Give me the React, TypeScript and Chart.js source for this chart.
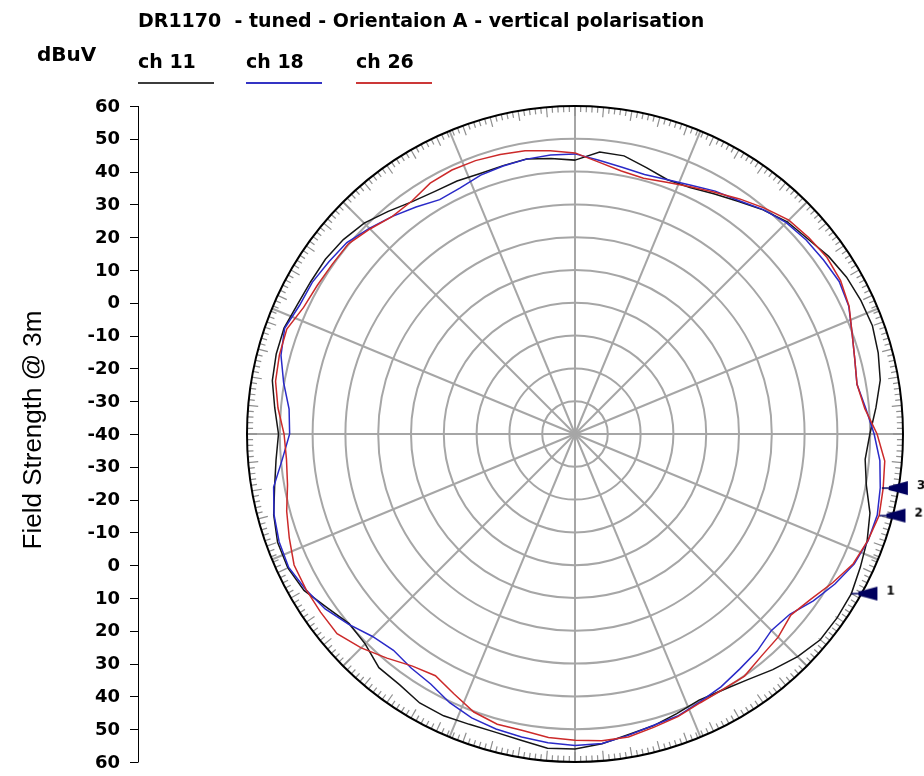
import React, { useEffect, useRef } from 'react';
import { Chart, registerables } from 'chart.js';

Chart.register(...registerables);

// Angles (degrees, clockwise from top)
const angleLabels = [
  '0', '5', '10', '15', '20', '25', '30', '35', '40', '45', '50', '55',
  '60', '65', '70', '75', '80', '85', '90', '95', '100', '105', '110', '115',
  '120', '125', '130', '135', '140', '145', '150', '155', '160', '165', '170', '175',
  '180', '185', '190', '195', '200', '205', '210', '215', '220', '225', '230', '235',
  '240', '245', '250', '255', '260', '265', '270', '275', '280', '285', '290', '295',
  '300', '305', '310', '315', '320', '325', '330', '335', '340', '345', '350', '355',
];

// Field strength, dBuV
const ch11 = [
  43.5, 46.3, 46.1, 44.1, 42.5, 42.9, 44.6, 46.6, 49.2, 51.5, 52.6, 54.4,
  55.6, 56.2, 56.5, 55.7, 54.5, 52.1, 49.9, 48.8, 50.2, 53.1, 54.8, 56.0,
  57.3, 57.6, 57.6, 56.0, 53.8, 51.5, 50.1, 49.5, 50.7, 52.1, 53.1, 54.8,
  56.0, 56.2, 54.8, 54.1, 54.2, 54.8, 54.7, 53.3, 53.0, 50.5, 49.9, 52.3,
  55.4, 56.6, 56.5, 55.1, 53.0, 51.5, 50.4, 51.9, 53.7, 54.3, 54.4, 53.4,
  53.0, 52.9, 52.2, 50.9, 48.6, 46.5, 45.4, 45.1, 44.5, 44.7, 45.1, 44.3,
];
const ch18 = [
  45.4, 43.8, 42.6, 41.9, 42.5, 43.7, 45.5, 46.9, 49.3, 51.1, 52.0, 52.5,
  53.0, 52.1, 49.9, 48.3, 47.3, 49.0, 51.2, 53.3, 54.5, 55.4, 55.1, 53.9,
  51.5, 48.7, 45.5, 44.7, 46.4, 47.5, 49.0, 50.1, 51.5, 52.0, 53.3, 54.7,
  55.0, 54.5, 53.8, 53.1, 52.1, 50.4, 48.0, 47.1, 46.1, 47.3, 50.2, 53.0,
  54.8, 56.3, 56.0, 55.0, 53.3, 49.6, 47.0, 47.5, 50.2, 52.8, 54.2, 52.7,
  52.5, 51.6, 50.8, 48.7, 46.6, 44.5, 42.5, 42.8, 44.0, 44.6, 45.1, 45.4,
];
const ch26 = [
  45.7, 43.2, 41.4, 40.7, 41.7, 43.2, 45.1, 47.5, 49.9, 52.2, 53.1, 53.8,
  53.5, 52.2, 49.9, 48.3, 47.3, 48.7, 52.1, 54.8, 55.4, 56.0, 55.0, 53.6,
  50.7, 47.8, 45.9, 47.6, 48.4, 50.1, 50.0, 50.4, 51.7, 52.6, 53.8, 53.9,
  53.4, 52.9, 51.8, 51.6, 50.2, 47.4, 45.1, 46.4, 49.2, 52.2, 54.7, 54.7,
  54.7, 54.5, 52.7, 51.0, 49.0, 48.3, 48.7, 50.9, 52.7, 53.3, 53.5, 51.3,
  50.7, 50.3, 50.2, 48.4, 46.6, 46.7, 48.3, 48.8, 48.7, 48.2, 47.7, 46.7,
];

const seriesNames = ['ch 11', 'ch 18', 'ch 26'];
const seriesColors = ['#151515', '#2a2ac8', '#cc2a2a'];
const legendColors = ['#3c3c3c', '#3434c4', '#cc3838'];

// Left axis tick values (mirrored about the centre)
const axisTicks = [-40, -30, -20, -10, 0, 10, 20, 30, 40, 50, 60];

// Markers
const markerLabels = ['1', '2', '3'];
const markerAngles = [120, 105, 100];
const markerValues = [57.3, 56.1, 55.0];

const titleText = 'DR1170  - tuned - Orientaion A - vertical polarisation';
const unitText = 'dBuV';
const axisTitle = 'Field Strength @ 3m';

const GRID = '#a6a6a6';
const BOLD = '"DejaVu Sans", "Liberation Sans", Arial, sans-serif';

function makeMarker(label: string): HTMLCanvasElement {
  const c = document.createElement('canvas');
  const W = 100;
  const H = 24;
  c.width = W;
  c.height = H;
  const g = c.getContext('2d') as CanvasRenderingContext2D;
  const cx = W / 2;
  const cy = H / 2;
  g.strokeStyle = '#00005e';
  g.fillStyle = '#00005e';
  g.lineWidth = 1.5;
  g.beginPath();
  g.moveTo(cx, cy);
  g.lineTo(cx + 9, cy);
  g.stroke();
  g.beginPath();
  g.moveTo(cx + 7, cy - 2);
  g.lineTo(cx + 15, cy - 4);
  g.lineTo(cx + 26, cy - 7);
  g.lineTo(cx + 26, cy + 7);
  g.lineTo(cx + 15, cy + 4);
  g.lineTo(cx + 7, cy + 2);
  g.closePath();
  g.fill();
  g.fillStyle = '#000';
  g.font = 'bold 12px ' + BOLD;
  g.textBaseline = 'middle';
  g.textAlign = 'left';
  g.fillText(label, cx + 35, cy - 2);
  return c;
}

const polarDecor = {
  id: 'polarDecor',
  beforeDatasetsDraw(chart: any) {
    const s = chart.scales.r;
    const ctx = chart.ctx as CanvasRenderingContext2D;
    const n = chart.data.labels.length;
    const R = s.drawingArea;
    ctx.save();
    // spokes every 22.5 degrees
    ctx.strokeStyle = GRID;
    ctx.lineWidth = 2;
    for (let k = 0; k < 16; k++) {
      const idx = ((k * 22.5) / 360) * n;
      const p = s.getPointPosition(idx, R);
      ctx.beginPath();
      ctx.moveTo(s.xCenter, s.yCenter);
      ctx.lineTo(p.x, p.y);
      ctx.stroke();
    }
    // degree ticks
    ctx.strokeStyle = '#8e8e8e';
    ctx.lineWidth = 1.2;
    for (let d = 0; d < 360; d++) {
      const idx = (d / 360) * n;
      const len = d % 5 === 0 ? 10 : 6;
      const p1 = s.getPointPosition(idx, R);
      const p2 = s.getPointPosition(idx, R - len);
      ctx.beginPath();
      ctx.moveTo(p1.x, p1.y);
      ctx.lineTo(p2.x, p2.y);
      ctx.stroke();
    }
    // outer circle
    ctx.strokeStyle = '#000';
    ctx.lineWidth = 2;
    ctx.beginPath();
    ctx.arc(s.xCenter, s.yCenter, R, 0, Math.PI * 2);
    ctx.stroke();
    ctx.restore();
  },
};

const textDecor = {
  id: 'textDecor',
  afterDraw(chart: any) {
    const s = chart.scales.r;
    const ctx = chart.ctx as CanvasRenderingContext2D;
    ctx.save();
    ctx.fillStyle = '#000';
    ctx.textAlign = 'left';
    ctx.textBaseline = 'alphabetic';
    // title
    ctx.font = 'bold 19px ' + BOLD;
    ctx.fillText(titleText, 138, 27, 568);
    // unit
    ctx.font = 'bold 20px ' + BOLD;
    ctx.fillText(unitText, 37, 61, 60);
    // legend
    const legendX = [138, 246, 356];
    ctx.font = 'bold 19px ' + BOLD;
    seriesNames.forEach((name, i) => {
      ctx.fillStyle = '#000';
      ctx.fillText(name, legendX[i], 68, 60);
      ctx.strokeStyle = legendColors[i];
      ctx.lineWidth = 2;
      ctx.beginPath();
      ctx.moveTo(legendX[i], 83);
      ctx.lineTo(legendX[i] + 76, 83);
      ctx.stroke();
    });
    // left axis
    const axisX = 138.5;
    const top = s.yCenter - s.getDistanceFromCenterForValue(axisTicks[axisTicks.length - 1]);
    const bottom = s.yCenter + s.getDistanceFromCenterForValue(axisTicks[axisTicks.length - 1]);
    ctx.strokeStyle = '#000';
    ctx.lineWidth = 1;
    ctx.beginPath();
    ctx.moveTo(axisX, top);
    ctx.lineTo(axisX, bottom);
    ctx.stroke();
    ctx.font = 'bold 18px ' + BOLD;
    ctx.textAlign = 'right';
    ctx.textBaseline = 'middle';
    axisTicks.forEach((v) => {
      const d = s.getDistanceFromCenterForValue(v);
      const ys = d === 0 ? [s.yCenter] : [s.yCenter - d, s.yCenter + d];
      ys.forEach((y) => {
        ctx.beginPath();
        ctx.moveTo(130, Math.round(y) + 0.5);
        ctx.lineTo(axisX, Math.round(y) + 0.5);
        ctx.stroke();
        ctx.fillText(String(v), 120, y + 1);
      });
    });
    // axis title
    ctx.translate(41, 430);
    ctx.rotate(-Math.PI / 2);
    ctx.textAlign = 'center';
    ctx.textBaseline = 'alphabetic';
    ctx.font = '26px "Liberation Sans", Arial, sans-serif';
    ctx.fillText(axisTitle, 0, 0, 256);
    ctx.restore();
  },
};

export default function App() {
  const ref = useRef<HTMLCanvasElement>(null);

  useEffect(() => {
    const canvas = ref.current;
    if (!canvas) return;
    const markerImgs = markerLabels.map((l) => makeMarker(l));
    const series = [ch11, ch18, ch26];
    const drawOrder = [3, 2, 1];
    const datasets: any[] = series.map((vals, i) => ({
      label: seriesNames[i],
      data: vals,
      borderColor: seriesColors[i],
      backgroundColor: 'transparent',
      borderWidth: 1.5,
      pointRadius: 0,
      fill: false,
      tension: 0,
      order: drawOrder[i],
    }));
    markerLabels.forEach((lab, i) => {
      datasets.push({
        label: 'marker ' + lab,
        data: angleLabels.map((a) => (Number(a) === markerAngles[i] ? markerValues[i] : null)),
        showLine: false,
        borderWidth: 0,
        fill: false,
        pointStyle: markerImgs[i],
        pointRadius: 4,
        order: 0,
      });
    });

    const chart = new Chart(canvas, {
      type: 'radar',
      data: { labels: angleLabels, datasets },
      options: {
        responsive: false,
        animation: false,
        events: [],
        layout: { padding: { left: 247, top: 106, right: 21, bottom: 14 } },
        plugins: {
          legend: { display: false },
          title: { display: false },
          tooltip: { enabled: false },
        },
        scales: {
          r: {
            min: -40,
            max: 60,
            beginAtZero: false,
            startAngle: 0,
            ticks: { display: false, stepSize: 10 },
            grid: {
              circular: true,
              color: (c: any) => (c.tick && c.tick.value === 60 ? 'rgba(0,0,0,0)' : GRID),
              lineWidth: 2,
            },
            angleLines: { display: false },
            pointLabels: { display: false },
          },
        },
      } as any,
      plugins: [polarDecor, textDecor],
    });
    return () => chart.destroy();
  }, []);

  return (
    <div style={{ position: 'absolute', left: 0, top: 0, width: 924, height: 776, background: '#fff' }}>
      <canvas ref={ref} width={924} height={776} style={{ display: 'block', width: 924, height: 776 }} />
    </div>
  );
}
